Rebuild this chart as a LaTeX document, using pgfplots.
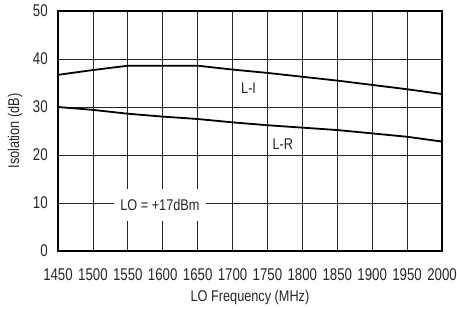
\documentclass[border=0pt]{standalone}
\usepackage{fontspec}
\setmainfont{Liberation Sans}[FakeStretch=0.82]
\newfontfamily\tickfont{Liberation Sans}[FakeStretch=0.78]
\usepackage{pgfplots}
\pgfplotsset{compat=1.18}
\begin{document}
\fontsize{15.5}{18}\selectfont
\begin{tikzpicture}
\begin{axis}[
 name=ax,
 scale only axis, width=384pt, height=240pt,
 xmin=1450, xmax=2000, ymin=0, ymax=50,
 xtick={1450,1500,...,2000}, ytick={0,10,...,50},
 grid=major, major grid style={black!85, line width=0.8pt},
 axis line style={line width=1.3pt},
 tick style={draw=none},
 /pgf/number format/assume math mode=true,
 /pgf/number format/1000 sep={},
 every tick label/.append style={font=\tickfont\fontsize{17}{19}\selectfont, text=black!85},
 yticklabel style={xshift=-5pt},
 xticklabel style={yshift=-12pt},
 label style={font=\fontsize{15.5}{18}\selectfont, text=black!85},
 xlabel={LO Frequency (MHz)},
 ylabel={Isolation (dB)},
 xlabel style={yshift=1pt},
 ylabel style={yshift=0pt},
]
\addplot[black, line width=1.8pt] coordinates {
(1450,36.7) (1500,37.7) (1550,38.6) (1600,38.6) (1650,38.6) (1700,37.8) (1750,37.1) (1800,36.3) (1850,35.5) (1900,34.6) (1950,33.7) (2000,32.7)};
\addplot[black, line width=1.8pt] coordinates {
(1450,30.0) (1500,29.4) (1550,28.6) (1600,28.0) (1650,27.5) (1700,26.8) (1750,26.2) (1800,25.7) (1850,25.2) (1900,24.5) (1950,23.8) (2000,22.8)};
\node[font=\fontsize{15.5}{18}\selectfont, text=black!85] at (axis cs:1723,34.0) {L-I};
\node[font=\fontsize{15.5}{18}\selectfont, text=black!85] at (axis cs:1772,22.3) {L-R};
\node[fill=white, inner xsep=6pt, inner ysep=10pt, font=\fontsize{15.5}{18}\selectfont, text=black!85] at (axis cs:1596,9.6) {LO = +17dBm};
\end{axis}
\pgfresetboundingbox
\path[use as bounding box] ([shift={(-58pt,-57pt)}]ax.south west) rectangle ([shift={(15pt,11pt)}]ax.north east);
\end{tikzpicture}
\end{document}
